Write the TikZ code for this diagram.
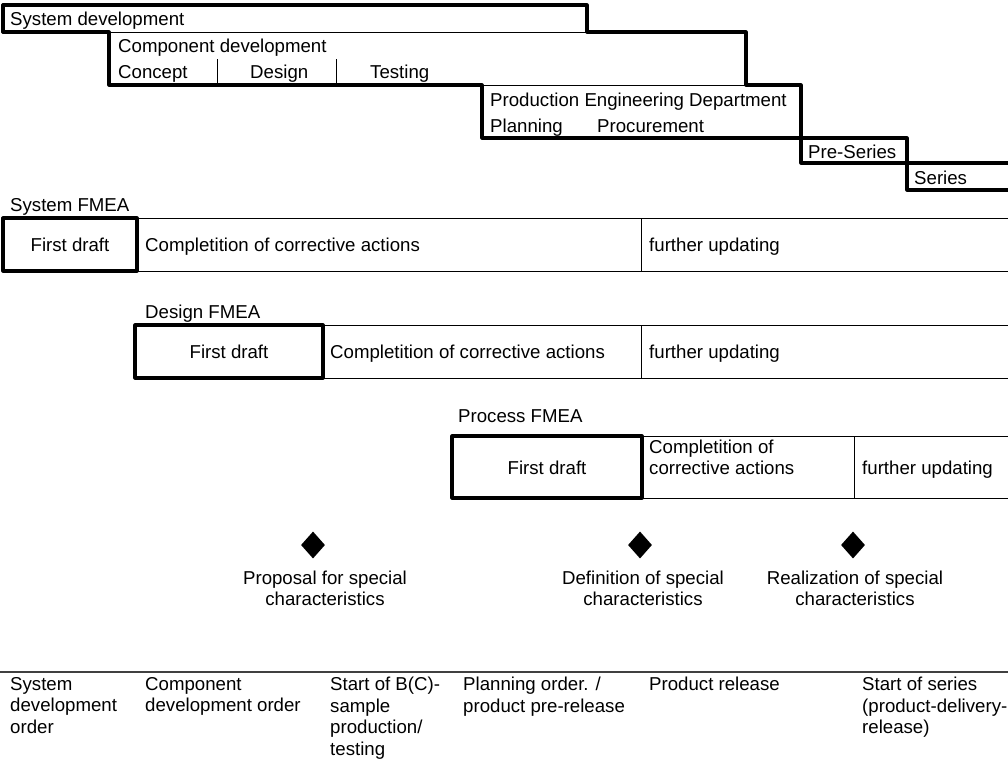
\documentclass[tikz,border=0pt]{standalone}
\usepackage{fontspec}
\setmainfont{Liberation Sans}
\usetikzlibrary{shapes.geometric}
\begin{document}
\begin{tikzpicture}[x=1pt,y=-1pt,
  heavy/.style={line width=3.2pt, line join=round, line cap=round},
  light/.style={line width=1pt},
  txt/.style={inner sep=0pt, font=\fontsize{18.65}{21.5}\selectfont, anchor=north west,
              align=left, execute at begin node=\strut},
  ctxt/.style={txt, anchor=north, align=center},
  milestone/.style={diamond, fill=black, draw=none, inner sep=0pt,
                    minimum width=24pt, minimum height=27pt}]
\useasboundingbox (0,0) rectangle (1008,761);

% ---- project phases (staircase) ----
\draw[heavy] (3,32) -- (3,5) -- (587,5) -- (587,32) -- (746,32) -- (746,85)
             -- (801,85) -- (801,163) -- (1008,163);
\draw[heavy] (3,32) -- (109,32) -- (109,85) -- (482,85) -- (482,138)
             -- (907,138) -- (907,190) -- (1008,190);
\draw[light] (109,32) -- (587,32);
\draw[light] (482,85) -- (746,85);
\draw[light] (217,59) -- (217,85);
\draw[light] (336,59) -- (336,85);

\node[txt] (sysdev)  at (10,9.8)    {System development};
\node[txt] (compdev) at (118,36.8)  {Component development};
\node[txt] (concept) at (118,62.8)  {Concept};
\node[txt] (design)  at (250,62.8)  {Design};
\node[txt] (testing) at (370,62.8)  {Testing};
\node[txt] (ped)     at (490,90.8)  {Production Engineering Department};
\node[txt] (plan)    at (490,116.8) {Planning};
\node[txt] (procure) at (597,116.8) {Procurement};
\node[txt] (preser)  at (808,142.8) {Pre-Series};
\node[txt] (series)  at (914,168.8) {Series};

% ---- System FMEA ----
\node[txt] (sfmea) at (10,195.8) {System FMEA};
\draw[light] (137,218) -- (1008,218) (137,271) -- (1008,271) (641,218) -- (641,271);
\draw[heavy] (3,218) rectangle (137,271);
\node[ctxt] (sdraft) at (70,235.8)  {First draft};
\node[txt]  (scorr)  at (145,235.8) {Completition of corrective actions};
\node[txt]  (supd)   at (649,235.8) {further updating};

% ---- Design FMEA ----
\node[txt] (dfmea) at (145,302.8) {Design FMEA};
\draw[light] (323,325) -- (1008,325) (323,378) -- (1008,378) (641,325) -- (641,378);
\draw[heavy] (135,325) rectangle (323,378);
\node[ctxt] (ddraft) at (229,342.8) {First draft};
\node[txt]  (dcorr)  at (330,342.8) {Completition of corrective actions};
\node[txt]  (dupd)   at (649,342.8) {further updating};

% ---- Process FMEA ----
\node[txt] (pfmea) at (458,406.8) {Process FMEA};
\draw[light] (642,436) -- (1008,436) (642,498) -- (1008,498) (854,436) -- (854,498);
\draw[heavy] (452,436) rectangle (642,498);
\node[ctxt] (pdraft) at (547,458.8) {First draft};
\node[txt]  (pcorr)  at (649,439.5) {Completition of\\corrective actions};
\node[txt]  (pupd)   at (862,458.8) {further updating};

% ---- special characteristics milestones ----
\node[milestone] (m1) at (313,545) {};
\node[milestone] (m2) at (640,545) {};
\node[milestone] (m3) at (853,545) {};
\node[ctxt] (m1t) at (325,570.5) {Proposal for special\\characteristics};
\node[ctxt] (m2t) at (643,570.5) {Definition of special\\characteristics};
\node[ctxt] (m3t) at (855,570.5) {Realization of special\\characteristics};

% ---- timeline of orders and releases ----
\draw[line width=1.3pt, black!75] (0,672) -- (1008,672);
\node[txt] (o1) at (10,676.8)  {System\\development\\order};
\node[txt] (o2) at (145,676.8) {Component\\development order};
\node[txt] (o3) at (330,676.8) {Start of B(C)-\\sample\\production/\\testing};
\node[txt] (o4) at (463,676.8) {Planning order. /\\product pre-release};
\node[txt] (o5) at (649,675.0) {Product release};
\node[txt] (o6) at (862,676.8) {Start of series\\(product-delivery-\\release)};
\end{tikzpicture}
\end{document}
